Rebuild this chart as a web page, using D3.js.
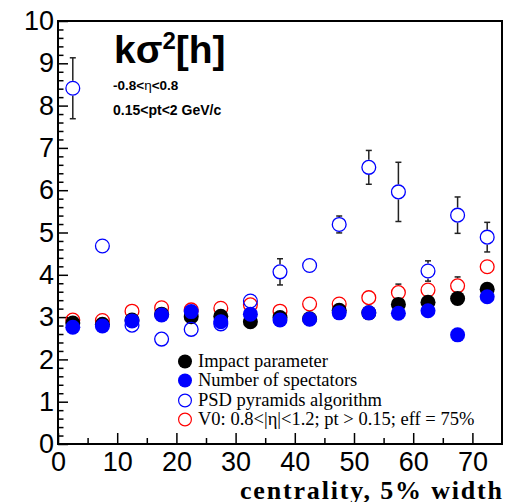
<!DOCTYPE html>
<html>
<head>
<meta charset="utf-8">
<script src="https://cdn.jsdelivr.net/npm/d3@7"></script>
<style>
body { margin: 0; background: #fff; }
svg { display: block; }
</style>
</head>
<body>
<svg id="canvas"></svg>
<script>
// centrality bin centres, 5% wide
let centrality = [2.5, 7.5, 12.5, 17.5, 22.5, 27.5, 32.5, 37.5, 42.5, 47.5, 52.5, 57.5, 62.5, 67.5, 72.5]
let impact = [2.86, 2.83, 2.93, 3.07, 3.01, 3.02, 2.89, 2.99, 2.96, 3.16, 3.10, 3.30, 3.35, 3.44, 3.66]
let spectators = [2.76, 2.79, 2.91, 3.05, 3.13, 2.89, 3.07, 2.93, 2.95, 3.10, 3.10, 3.09, 3.15, 2.58, 3.48]
let psd = [8.41, 4.68, 2.81, 2.48, 2.71, 2.84, 3.38, 4.07, 4.22, 5.19, 6.54, 5.96, 4.09, 5.41, 4.89]
let psdErr = [0.72, 0.1, 0.05, 0.05, 0.05, 0.05, 0.1, 0.31, 0.1, 0.2, 0.40, 0.70, 0.24, 0.43, 0.35]
let v0 = [2.93, 2.92, 3.14, 3.22, 3.17, 3.21, 3.29, 3.14, 3.31, 3.31, 3.46, 3.58, 3.64, 3.74, 4.19]
let v0Err = [0.05, 0.05, 0.05, 0.05, 0.05, 0.05, 0.05, 0.05, 0.05, 0.05, 0.1, 0.2, 0.1, 0.21, 0.1]
let xTicks = [0, 10, 20, 30, 40, 50, 60, 70]
let yTicks = [0, 1, 2, 3, 4, 5, 6, 7, 8, 9, 10]
let legendLabels = ['Impact parameter', 'Number of spectators', 'PSD pyramids algorithm', 'V0: 0.8<|\u03b7|<1.2; pt > 0.15; eff = 75%']

let width = 521
let height = 502
let padLeft = 58
let padRight = 502
let padTop = 21
let padBottom = 444
let radius = 7.5

let canvas = d3.select('#canvas')
canvas.attr('width', width)
canvas.attr('height', height)

let xScale = d3.scaleLinear().domain([0, 75]).range([padLeft, padRight])
let yScale = d3.scaleLinear().domain([0, 10]).range([padBottom, padTop])

let series = [
    { values: impact, fill: '#000', stroke: 'none' },
    { values: spectators, fill: '#0000ff', stroke: 'none' },
    { values: psd, errors: psdErr, fill: 'none', stroke: '#0000ff' },
    { values: v0, errors: v0Err, fill: 'none', stroke: '#ff0000' }
]

let drawAxes = () => {
    let yMinorValues = d3.range(0, 51).filter((i) => i % 5 !== 0).map((i) => i / 5)
    let xMinorValues = [5, 15, 25, 35, 45, 55, 65]

    canvas.append('g')
        .attr('transform', 'translate(' + padLeft + ',0)')
        .call(d3.axisLeft(yScale).tickValues(yMinorValues).tickSize(-5.5).tickFormat(''))
        .call((g) => g.select('.domain').remove())
    canvas.append('g')
        .attr('id', 'y-axis')
        .attr('transform', 'translate(' + padLeft + ',0)')
        .call(d3.axisLeft(yScale).tickValues(yTicks).tickSize(-10).tickPadding(4).tickFormat(d3.format('d')))
        .call((g) => g.select('.domain').remove())

    canvas.append('g')
        .attr('transform', 'translate(0,' + padBottom + ')')
        .call(d3.axisBottom(xScale).tickValues(xMinorValues).tickSize(-6).tickFormat(''))
        .call((g) => g.select('.domain').remove())
    canvas.append('g')
        .attr('id', 'x-axis')
        .attr('transform', 'translate(0,' + padBottom + ')')
        .call(d3.axisBottom(xScale).tickValues(xTicks).tickSize(-11).tickPadding(8).tickFormat(d3.format('d')))
        .call((g) => g.select('.domain').remove())

    canvas.selectAll('.tick line').attr('stroke', '#000').attr('stroke-width', 1.5)
    canvas.selectAll('.tick text')
        .attr('font-family', '"Liberation Sans", Arial, sans-serif')
        .attr('font-size', 27)
        .attr('fill', '#000')

    canvas.append('rect')
        .attr('x', padLeft)
        .attr('y', padTop)
        .attr('width', padRight - padLeft)
        .attr('height', padBottom - padTop)
        .attr('fill', 'none')
        .attr('stroke', '#000')
        .attr('stroke-width', 2)

    canvas.append('text')
        .attr('x', padRight)
        .attr('y', 499)
        .attr('text-anchor', 'end')
        .attr('font-family', '"Liberation Serif", "Times New Roman", serif')
        .attr('font-weight', 'bold')
        .attr('font-size', 26)
        .attr('textLength', 262)
        .attr('lengthAdjust', 'spacing')
        .text('centrality, 5% width')
}

let drawErrors = (s) => {
    let g = canvas.append('g').attr('stroke', '#222').attr('stroke-width', 1.5)
    centrality.forEach((c, i) => {
        let cx = xScale(c)
        let cy = yScale(s.values[i])
        let hi = yScale(s.values[i] + s.errors[i])
        let lo = yScale(s.values[i] - s.errors[i])
        if (cy - hi > radius) {
            g.append('line').attr('x1', cx).attr('x2', cx).attr('y1', hi).attr('y2', cy - radius)
            g.append('line').attr('x1', cx).attr('x2', cx).attr('y1', lo).attr('y2', cy + radius)
            g.append('line').attr('x1', cx - 3).attr('x2', cx + 3).attr('y1', hi).attr('y2', hi)
            g.append('line').attr('x1', cx - 3).attr('x2', cx + 3).attr('y1', lo).attr('y2', lo)
        } else if (cy - hi > radius - 1.5) {
            // bar ends just outside the marker: only the caps show
            g.append('line').attr('x1', cx - 3).attr('x2', cx + 3).attr('y1', hi - 1).attr('y2', hi - 1)
        }
    })
}

let drawPoints = () => {
    // draw order: V0 first, then impact, spectators, PSD on top
    let order = [series[3], series[0], series[1], series[2]]
    order.forEach((s) => {
        if (s.errors) drawErrors(s)
        canvas.append('g')
            .selectAll('circle')
            .data(s.values)
            .enter()
            .append('circle')
            .attr('cx', (d, i) => xScale(centrality[i]))
            .attr('cy', (d) => yScale(d))
            .attr('r', s.fill === 'none' ? radius - 0.6 : radius)
            .attr('fill', s.fill)
            .attr('stroke', s.stroke)
            .attr('stroke-width', 1.3)
    })
}

let drawLabels = () => {
    let title = canvas.append('text')
        .attr('x', 114)
        .attr('y', 63)
        .attr('font-family', '"Liberation Sans", Arial, sans-serif')
        .attr('font-weight', 'bold')
        .attr('font-size', 39)
    title.append('tspan').text('k\u03c3')
    title.append('tspan').attr('font-size', 24).attr('dy', -14).text('2')
    title.append('tspan').attr('dy', 14).text('[h]')

    let eta = canvas.append('text')
        .attr('x', 113)
        .attr('y', 90)
        .attr('font-family', '"Liberation Sans", Arial, sans-serif')
        .attr('font-weight', 'bold')
        .attr('font-size', 13.5)
    eta.append('tspan').text('-0.8<')
    eta.append('tspan').attr('font-weight', 'normal').text('\u03b7')
    eta.append('tspan').text('<0.8')

    canvas.append('text')
        .attr('x', 113)
        .attr('y', 115)
        .attr('font-family', '"Liberation Sans", Arial, sans-serif')
        .attr('font-weight', 'bold')
        .attr('font-size', 14)
        .text('0.15<pt<2 GeV/c')
}

let drawLegend = () => {
    let rowsY = [361.5, 380.5, 400.5, 419.5]
    let g = canvas.append('g')
    legendLabels.forEach((label, i) => {
        let s = series[i]
        g.append('circle')
            .attr('cx', 185)
            .attr('cy', rowsY[i])
            .attr('r', s.fill === 'none' ? 6.4 : 7)
            .attr('fill', s.fill)
            .attr('stroke', s.stroke)
            .attr('stroke-width', 1.2)
        g.append('text')
            .attr('x', 198)
            .attr('y', rowsY[i] + 5)
            .attr('font-family', '"Liberation Serif", "Times New Roman", serif')
            .attr('font-size', 18.5)
            .attr('fill', '#000')
            .text(label)
    })
}

drawAxes()
drawPoints()
drawLabels()
drawLegend()
</script>
</body>
</html>
